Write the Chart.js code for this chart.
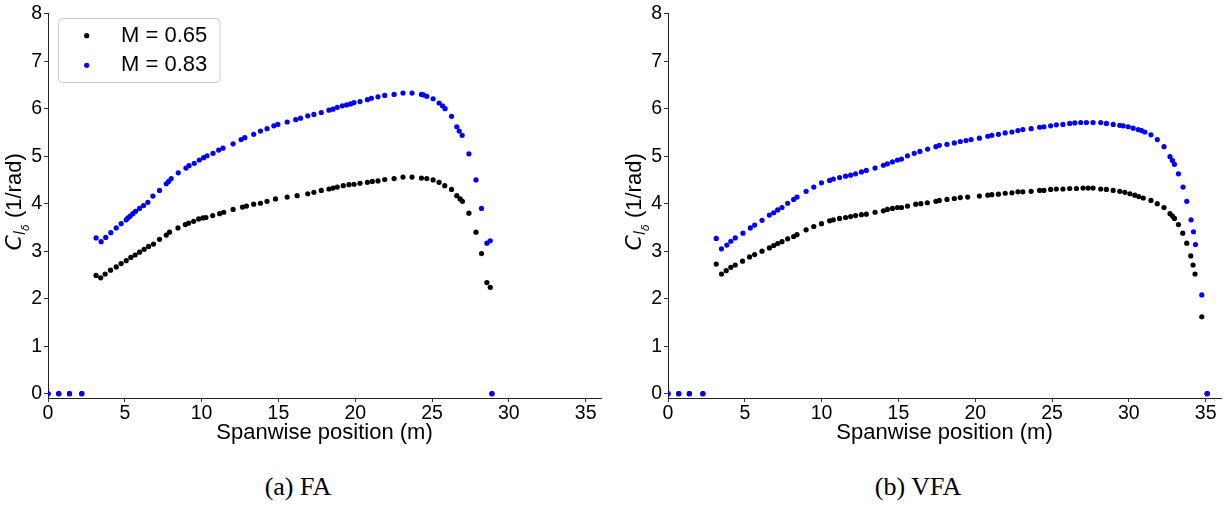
<!DOCTYPE html>
<html><head><meta charset="utf-8">
<script src="https://cdn.jsdelivr.net/npm/chart.js@4.4.1/dist/chart.umd.min.js"></script>
<style>
html,body{margin:0;padding:0;background:#fff;}
body{width:1225px;height:505px;overflow:hidden;position:relative;}
canvas{position:absolute;top:0;}
#c1{left:0px;}
#c2{left:620px;}
.cap{position:absolute;font-family:"Liberation Serif";font-size:26px;line-height:30px;color:#000;white-space:nowrap;transform:translateX(-50%);}
</style></head><body>
<canvas id="c1" width="612" height="455"></canvas>
<canvas id="c2" width="605" height="455"></canvas>
<div class="cap" style="left:298px;top:472px">(a) FA</div>
<div class="cap" style="left:918px;top:472px">(b) VFA</div>
<script>
// ---------------- data ----------------
const seriesLabels = ['M = 0.65', 'M = 0.83'];
const seriesColors = ['#000000', '#0000ff'];
const xTicks = [0, 5, 10, 15, 20, 25, 30, 35];
const yTicks = [0, 1, 2, 3, 4, 5, 6, 7, 8];
const xTitle = 'Spanwise position (m)';
const yTitleMain = 'C';
const yTitleSub = 'l';
const yTitleSubSub = 'δ';
const yTitleUnit = ' (1/rad)';
const captions = ['(a) FA', '(b) VFA'];

// FA, M = 0.65
const faSpan065 = [0,0.7,1.4,2.2,3.13,3.43,3.72,4.07,4.44,4.76,5.09,5.39,5.67,5.96,6.26,6.55,6.87,7.26,7.70,7.91,8.46,8.94,9.15,9.48,9.81,10.09,10.28,10.72,11.17,11.44,12.05,12.66,12.92,13.39,13.83,14.26,14.81,15.57,16.22,16.91,17.31,17.79,18.29,18.55,18.83,19.22,19.59,19.92,20.31,20.79,21.11,21.48,21.92,22.53,23.11,23.70,24.31,24.66,25.07,25.46,25.83,26.27,26.61,26.83,26.98,27.40,27.86,28.22,28.57,28.79,28.90];
const faCl065 = [0,0,0,0,2.49,2.44,2.52,2.60,2.67,2.74,2.80,2.87,2.92,2.98,3.04,3.10,3.15,3.25,3.34,3.40,3.49,3.56,3.59,3.63,3.68,3.70,3.71,3.75,3.79,3.82,3.88,3.93,3.95,3.99,4.01,4.05,4.10,4.14,4.17,4.21,4.24,4.28,4.31,4.33,4.35,4.38,4.40,4.41,4.43,4.45,4.47,4.48,4.51,4.53,4.56,4.56,4.54,4.53,4.50,4.45,4.38,4.30,4.17,4.10,4.05,3.80,3.40,2.95,2.34,2.24,0];
// FA, M = 0.83
const faSpan083 = [0,0.7,1.4,2.2,3.13,3.46,3.76,4.09,4.44,4.76,5.09,5.20,5.35,5.52,5.70,5.96,6.22,6.50,6.83,7.26,7.70,7.85,8.02,8.48,8.98,9.18,9.52,9.85,10.13,10.35,10.74,11.11,11.39,12.05,12.57,12.81,13.39,13.83,14.26,14.70,14.96,15.57,16.13,16.44,16.91,17.31,17.79,18.29,18.55,18.83,19.16,19.44,19.70,19.92,20.31,20.79,21.05,21.48,21.92,22.53,23.11,23.70,24.31,24.44,24.66,25.07,25.46,25.68,25.85,26.27,26.61,26.77,26.96,27.40,27.86,28.22,28.57,28.79,28.90];
const faCl083 = [0,0,0,0,3.28,3.20,3.29,3.39,3.49,3.58,3.66,3.70,3.74,3.79,3.84,3.90,3.96,4.03,4.16,4.28,4.42,4.47,4.53,4.65,4.75,4.80,4.85,4.92,4.97,5.01,5.06,5.13,5.17,5.26,5.35,5.39,5.46,5.53,5.58,5.64,5.67,5.72,5.77,5.80,5.85,5.88,5.92,5.97,5.99,6.03,6.06,6.08,6.10,6.13,6.15,6.19,6.22,6.25,6.28,6.30,6.33,6.33,6.30,6.29,6.26,6.21,6.12,6.06,6.00,5.84,5.62,5.53,5.44,5.05,4.50,3.90,3.17,3.22,0];
// VFA, M = 0.65
const vfaSpan065 = [0,0.7,1.39,2.27,3.14,3.48,3.79,4.09,4.38,4.85,5.31,5.64,6.12,6.60,6.88,7.14,7.42,7.79,8.18,8.40,8.99,9.49,9.99,10.52,10.76,11.17,11.56,11.89,12.21,12.59,12.91,13.48,14.02,14.28,14.61,14.94,15.20,15.59,16.13,16.46,16.88,17.44,17.66,18.16,18.64,19.03,19.51,20.27,20.82,21.08,21.51,21.95,22.39,22.78,23.10,23.64,24.19,24.47,24.91,25.28,25.71,26.15,26.59,27.02,27.35,27.67,28.17,28.54,28.98,29.41,29.74,30.07,30.39,30.65,30.94,31.44,31.85,32.29,32.68,32.84,32.97,33.23,33.51,33.77,34.03,34.18,34.31,34.75,35.10];
const vfaCl065 = [0,0,0,0,2.73,2.52,2.59,2.66,2.71,2.79,2.88,2.93,3.00,3.07,3.12,3.16,3.20,3.26,3.31,3.35,3.45,3.52,3.58,3.64,3.66,3.69,3.71,3.73,3.75,3.77,3.78,3.82,3.85,3.88,3.90,3.92,3.92,3.95,3.99,4.00,4.02,4.05,4.07,4.09,4.11,4.13,4.14,4.16,4.18,4.19,4.20,4.22,4.23,4.25,4.25,4.26,4.28,4.28,4.30,4.31,4.31,4.32,4.32,4.33,4.33,4.33,4.31,4.30,4.28,4.26,4.24,4.21,4.18,4.15,4.12,4.07,4.00,3.92,3.79,3.74,3.69,3.56,3.38,3.17,2.90,2.71,2.52,1.62,0];
// VFA, M = 0.83
const vfaSpan083 = [0,0.7,1.39,2.27,3.14,3.48,3.83,4.09,4.38,4.88,5.36,5.64,6.12,6.60,6.88,7.14,7.42,7.79,8.18,8.40,8.99,9.49,9.99,10.52,10.76,11.17,11.56,11.89,12.21,12.59,12.91,13.48,14.02,14.28,14.61,14.94,15.20,15.59,16.03,16.40,16.90,17.44,17.66,18.16,18.64,19.03,19.40,19.73,20.27,20.82,21.08,21.51,21.95,22.39,22.78,23.10,23.64,24.19,24.47,24.91,25.28,25.71,26.15,26.48,26.87,27.24,27.67,28.17,28.54,28.98,29.41,29.63,29.96,30.28,30.61,30.83,31.04,31.44,31.85,32.29,32.68,32.84,32.97,33.23,33.53,33.77,34.05,34.21,34.34,34.75,35.10];
const vfaCl083 = [0,0,0,0,3.27,3.05,3.13,3.21,3.28,3.38,3.49,3.55,3.65,3.76,3.81,3.87,3.92,4.01,4.09,4.14,4.26,4.35,4.44,4.49,4.52,4.55,4.58,4.60,4.63,4.67,4.70,4.75,4.81,4.84,4.88,4.92,4.94,5.01,5.06,5.10,5.15,5.20,5.23,5.25,5.28,5.31,5.33,5.35,5.38,5.42,5.44,5.46,5.49,5.51,5.54,5.56,5.58,5.61,5.62,5.64,5.66,5.67,5.69,5.70,5.71,5.71,5.71,5.71,5.69,5.67,5.65,5.64,5.62,5.59,5.56,5.54,5.51,5.45,5.35,5.20,4.99,4.91,4.83,4.63,4.35,4.05,3.66,3.41,3.14,2.08,0];

// ---------------- helpers ----------------
function pts(xs, ys) {
  const n = Math.min(xs.length, ys.length);
  const out = [];
  for (let i = 0; i < n; i++) out.push({x: xs[i], y: ys[i]});
  return out;
}

const SANS = '"Liberation Sans", Arial, sans-serif';
Chart.defaults.font.family = SANS;
Chart.defaults.color = '#000';

const yTitlePlugin = {
  id: 'yTitle',
  afterDraw(chart, args, opts) {
    const ctx = chart.ctx;
    const ca = chart.chartArea;
    const cy = (ca.top + ca.bottom) / 2 + (opts.shift || 0);
    const parts = [
      {t: yTitleMain, f: 'italic 22px "DejaVu Sans"', dy: 0},
      {t: yTitleSub, f: 'italic 15px "DejaVu Sans"', dy: 4},
      {t: yTitleSubSub, f: 'italic 11px "DejaVu Sans"', dy: 7.5},
      {t: yTitleUnit, f: '22px ' + SANS, dy: 0}
    ];
    ctx.save();
    let total = 0;
    parts.forEach(p => { ctx.font = p.f; p.w = ctx.measureText(p.t).width; total += p.w; });
    ctx.translate(opts.x, cy);
    ctx.rotate(-Math.PI / 2);
    ctx.fillStyle = '#000';
    ctx.textBaseline = 'alphabetic';
    ctx.textAlign = 'left';
    let x = -total / 2;
    parts.forEach(p => { ctx.font = p.f; ctx.fillText(p.t, x, 8 + p.dy); x += p.w; });
    ctx.restore();
  }
};

const boxLegendPlugin = {
  id: 'boxLegend',
  afterDraw(chart, args, opts) {
    if (!opts || !opts.show) return;
    const ctx = chart.ctx;
    ctx.save();
    const bx = 58.5, by = 18.5, bw = 161.5, bh = 64, r = 4;
    ctx.beginPath();
    ctx.moveTo(bx + r, by);
    ctx.lineTo(bx + bw - r, by);
    ctx.arcTo(bx + bw, by, bx + bw, by + r, r);
    ctx.lineTo(bx + bw, by + bh - r);
    ctx.arcTo(bx + bw, by + bh, bx + bw - r, by + bh, r);
    ctx.lineTo(bx + r, by + bh);
    ctx.arcTo(bx, by + bh, bx, by + bh - r, r);
    ctx.lineTo(bx, by + r);
    ctx.arcTo(bx, by, bx + r, by, r);
    ctx.closePath();
    ctx.fillStyle = 'rgba(255,255,255,0.8)';
    ctx.fill();
    ctx.strokeStyle = '#cccccc';
    ctx.lineWidth = 1;
    ctx.stroke();
    const rows = [{dotY: 35.7, base: 42.3}, {dotY: 65.3, base: 70.7}];
    chart.data.datasets.forEach((ds, i) => {
      const row = rows[i];
      ctx.beginPath();
      ctx.arc(86.7, row.dotY, 2.6, 0, Math.PI * 2);
      ctx.fillStyle = ds.backgroundColor;
      ctx.fill();
      ctx.fillStyle = '#000';
      ctx.font = '22px ' + SANS;
      ctx.textBaseline = 'alphabetic';
      ctx.textAlign = 'left';
      ctx.fillText(ds.label, 121, row.base);
    });
    ctx.restore();
  }
};

function makeChart(id, xs065, ys065, xs083, ys083, showLegend, padRight) {
  return new Chart(document.getElementById(id), {
    type: 'scatter',
    data: {
      datasets: [
        {label: seriesLabels[0], data: pts(xs065, ys065), backgroundColor: seriesColors[0], borderWidth: 0, pointRadius: 2.6, order: 1, clip: 0},
        {label: seriesLabels[1], data: pts(xs083, ys083), backgroundColor: seriesColors[1], borderWidth: 0, pointRadius: 2.6, order: 0, clip: 0}
      ]
    },
    options: {
      responsive: false,
      animation: false,
      devicePixelRatio: 1,
      events: [],
      layout: {padding: {left: 0, top: 10, right: padRight, bottom: 0}},
      plugins: {
        legend: {display: false},
        tooltip: {enabled: false},
        yTitle: {x: 13, shift: -4},
        boxLegend: {show: showLegend}
      },
      scales: {
        x: {
          type: 'linear',
          min: 0, max: 36,
          afterBuildTicks: s => { s.ticks = xTicks.map(v => ({value: v})); },
          afterFit: s => { s.height = 57; },
          grid: {drawOnChartArea: false, drawTicks: true, tickLength: 4, color: '#333', tickWidth: 1},
          border: {display: true, color: '#222', width: 1},
          ticks: {font: {size: 19.5}, color: '#000', padding: 0, maxRotation: 0, autoSkip: false},
          title: {display: true, text: xTitle, font: {size: 22}, color: '#000', padding: {top: 0, bottom: 9}}
        },
        y: {
          type: 'linear',
          min: -0.09, max: 8,
          afterBuildTicks: s => { s.ticks = yTicks.map(v => ({value: v})); },
          afterFit: s => { s.width = 48; },
          grid: {drawOnChartArea: false, drawTicks: true, tickLength: 4, color: '#333', tickWidth: 1},
          border: {display: true, color: '#222', width: 1},
          ticks: {font: {size: 19.5}, color: '#000', padding: 2, autoSkip: false}
        }
      }
    },
    plugins: [yTitlePlugin, boxLegendPlugin]
  });
}

makeChart('c1', faSpan065, faCl065, faSpan083, faCl083, true, 11);
makeChart('c2', vfaSpan065, vfaCl065, vfaSpan083, vfaCl083, false, 4);
</script>
</body></html>
